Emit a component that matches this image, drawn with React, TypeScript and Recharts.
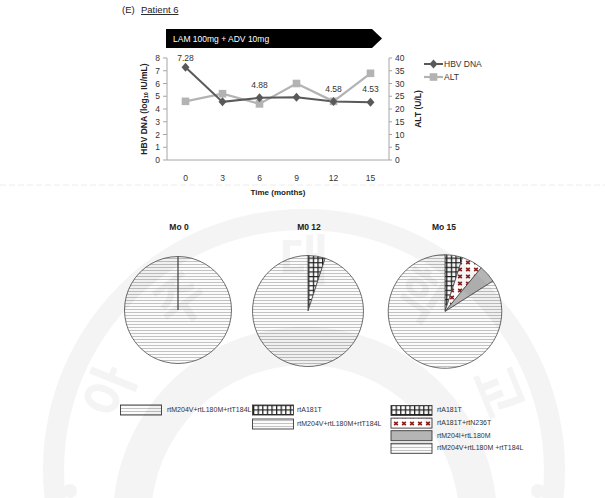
import React from "react";
import { LineChart, Line, XAxis, YAxis, LabelList, PieChart, Pie, Cell } from "recharts";

// follow-up time points and measurements
const months = ["0", "3", "6", "9", "12", "15"];
const hbvDna = [7.28, 4.56, 4.88, 4.93, 4.58, 4.53];
const altLevels = [23, 26, 22, 30, 23, 34];
const labelledPoints = [0, 2, 4, 5];
const dnaTicks = [0, 1, 2, 3, 4, 5, 6, 7, 8];
const altTicks = [0, 5, 10, 15, 20, 25, 30, 35, 40];

// mutant proportions (%) at each time point
const pieTitles = ["Mo 0", "M0 12", "Mo 15"];
const mo0Variants = ["rtM204V+rtL180M+rtT184L"];
const mo0Shares = [100];
const mo12Variants = ["rtA181T", "rtM204V+rtL180M+rtT184L"];
const mo12Shares = [5, 95];
const mo15Variants = ["rtA181T", "rtA181T+rtN236T", "rtM204I+rtL180M", "rtM204V+rtL180M +rtT184L"];
const mo15Shares = [5, 6, 5, 84];

// letters of the background seal
const sealLetters = ["아", "주", "대", "학", "교"];

const FONT = "'Liberation Sans', Arial, sans-serif";
const DNA_COLOR = "#595959";
const ALT_COLOR = "#b3b3b3";

const lineData = months.map((m, i) => ({ month: m, dna: hbvDna[i], alt: altLevels[i] }));
const toSlices = (names: string[], shares: number[]) =>
  names.map((name, i) => ({ name, value: shares[i] }));

const fillFor = (name: string) => {
  if (name === "rtA181T") return "url(#gridFill)";
  if (name.startsWith("rtA181T+")) return "url(#crossFill)";
  if (name.startsWith("rtM204I")) return "#b5b5b5";
  return "url(#stripeFill)";
};

const Diamond = (props: any) => {
  const { cx, cy, index } = props;
  if (cx == null || cy == null) return <g key={`d${index}`} />;
  return (
    <path
      key={`d${index}`}
      d={`M${cx},${cy - 4.5}L${cx + 4},${cy}L${cx},${cy + 4.5}L${cx - 4},${cy}Z`}
      fill={DNA_COLOR}
    />
  );
};

const Square = (props: any) => {
  const { cx, cy, index } = props;
  if (cx == null || cy == null) return <g key={`s${index}`} />;
  return <rect key={`s${index}`} x={cx - 3.8} y={cy - 3.8} width={7.6} height={7.6} fill={ALT_COLOR} />;
};

const renderDnaLabel = (props: any) => {
  const { x, y, value } = props;
  const idx = props.index ?? hbvDna.indexOf(Number(value));
  if (!labelledPoints.includes(idx)) return null;
  return (
    <text x={x} y={Math.max(y - 10, 61)} textAnchor="middle" fontSize={8.5} fill="#333" fontFamily={FONT}>
      {Number(value).toFixed(2)}
    </text>
  );
};

const tickStyle = { fontSize: 8.5, fill: "#333", fontFamily: FONT };

const LegendBox = ({ x, y, fill }: { x: number; y: number; fill: string }) => (
  <rect x={x} y={y} width={41} height={10} fill={fill} stroke="#3a3a3a" strokeWidth={0.9} />
);

const legendText = (x: number, y: number, s: string) => (
  <text x={x} y={y} fontSize={7} fill="#333" fontFamily={FONT} dominantBaseline="middle">
    {s}
  </text>
);

export default function App() {
  const pies = [
    { slices: toSlices(mo0Variants, mo0Shares), cx: 178, cy: 310, r: 53.5 },
    { slices: toSlices(mo12Variants, mo12Shares), cx: 308, cy: 311, r: 55.5 },
    { slices: toSlices(mo15Variants, mo15Shares), cx: 445, cy: 311.5, r: 56.8 },
  ];
  const sealAngles = [-68, -36, 0, 34, 68];

  return (
    <div style={{ position: "absolute", left: 0, top: 0, width: 605, height: 498, background: "#fff", overflow: "hidden" }}>
      <svg width={0} height={0} style={{ position: "absolute" }}>
        <defs>
          <pattern id="stripeFill" width={6} height={3} patternUnits="userSpaceOnUse">
            <rect width={6} height={3} fill="#fbfbfb" />
            <line x1={0} x2={6} y1={0.5} y2={0.5} stroke="#c2c2c2" strokeWidth={1} />
          </pattern>
          <pattern id="gridFill" width={4.6} height={4.6} patternUnits="userSpaceOnUse">
            <rect width={4.6} height={4.6} fill="#fff" />
            <path d="M0,0.6H4.6M0.6,0V4.6" stroke="#1e1e1e" strokeWidth={1.3} />
          </pattern>
          <pattern id="crossFill" width={8} height={7} patternUnits="userSpaceOnUse">
            <rect width={8} height={7} fill="#fff" />
            <path d="M2.2,1.8L5.8,5.2M5.8,1.8L2.2,5.2" stroke="#8e1c1c" strokeWidth={1.6} />
          </pattern>
        </defs>
      </svg>

      <div style={{ position: "absolute", left: 0, top: 0 }}>
        <LineChart width={605} height={210} data={lineData} margin={{ top: 58, right: 176, bottom: 20, left: 107 }}>
          <XAxis
            dataKey="month"
            tickLine={false}
            tickMargin={9}
            height={30}
            padding={{ left: 18.5, right: 18.5 }}
            stroke="#a6a6a6"
            tick={tickStyle}
          />
          <YAxis
            yAxisId="dna"
            orientation="left"
            width={60}
            domain={[0, 8]}
            ticks={dnaTicks}
            interval={0}
            tickSize={4}
            tickMargin={3}
            stroke="#a6a6a6"
            tick={tickStyle}
          />
          <YAxis
            yAxisId="alt"
            orientation="right"
            width={40}
            domain={[0, 40]}
            ticks={altTicks}
            interval={0}
            tickSize={3}
            tickMargin={3}
            stroke="#a6a6a6"
            tick={tickStyle}
          />
          <Line
            yAxisId="alt"
            dataKey="alt"
            stroke={ALT_COLOR}
            strokeWidth={2.2}
            dot={Square}
            activeDot={false}
            isAnimationActive={false}
          />
          <Line
            yAxisId="dna"
            dataKey="dna"
            stroke={DNA_COLOR}
            strokeWidth={2}
            dot={Diamond}
            activeDot={false}
            isAnimationActive={false}
          >
            <LabelList dataKey="dna" content={renderDnaLabel} />
          </Line>
        </LineChart>
      </div>

      <div style={{ position: "absolute", left: 0, top: 0 }}>
        <PieChart width={605} height={498} margin={{ top: 0, right: 0, bottom: 0, left: 0 }}>
          {pies.map((p, k) => (
            <Pie
              key={k}
              data={p.slices}
              dataKey="value"
              nameKey="name"
              cx={p.cx}
              cy={p.cy}
              outerRadius={p.r}
              startAngle={90}
              endAngle={-270}
              stroke="#4a4a4a"
              strokeWidth={0.8}
              isAnimationActive={false}
            >
              {p.slices.map((s, i) => (
                <Cell key={i} fill={fillFor(s.name)} />
              ))}
            </Pie>
          ))}
        </PieChart>
      </div>

      <svg width={605} height={498} style={{ position: "absolute", left: 0, top: 0, pointerEvents: "none" }}>
        {/* panel header */}
        <text x={122} y={13} fontSize={9.5} fill="#222" fontFamily={FONT}>(E)</text>
        <text x={141} y={13} fontSize={9.5} fill="#222" fontFamily={FONT} textDecoration="underline">Patient 6</text>

        {/* treatment banner */}
        <polygon points="166,29 372,29 382,38.5 372,48 166,48" fill="#000" />
        <text x={173} y={41.5} fontSize={8.5} fill="#fff" fontFamily={FONT}>LAM 100mg + ADV 10mg</text>

        {/* axis titles */}
        <text
          transform="translate(145,109) rotate(-90)"
          textAnchor="middle"
          dominantBaseline="middle"
          fontSize={8.5}
          fontWeight="bold"
          fill="#222"
          fontFamily={FONT}
        >
          HBV DNA (log<tspan fontSize={5.5} dy={2}>10</tspan>
          <tspan dy={-2}> IU/mL)</tspan>
        </text>
        <text
          transform="translate(419,109) rotate(-90)"
          textAnchor="middle"
          dominantBaseline="middle"
          fontSize={8.5}
          fontWeight="bold"
          fill="#222"
          fontFamily={FONT}
        >
          ALT (U/L)
        </text>
        <text x={278} y={194.5} textAnchor="middle" fontSize={8} fontWeight="bold" fill="#222" fontFamily={FONT}>
          Time (months)
        </text>

        {/* line legend */}
        <line x1={424} x2={443} y1={64} y2={64} stroke={DNA_COLOR} strokeWidth={2} />
        <path d="M433.5,59.5L437.5,64L433.5,68.5L429.5,64Z" fill={DNA_COLOR} />
        <text x={444} y={67} fontSize={8.5} fill="#333" fontFamily={FONT}>HBV DNA</text>
        <line x1={424} x2={443} y1={77} y2={77} stroke={ALT_COLOR} strokeWidth={2.2} />
        <rect x={429.7} y={73.2} width={7.6} height={7.6} fill={ALT_COLOR} />
        <text x={444} y={80} fontSize={8.5} fill="#333" fontFamily={FONT}>ALT</text>

        {/* faint separator */}
        <line x1={0} x2={605} y1={185} y2={185} stroke="#ececec" strokeWidth={1} strokeDasharray="6 3" />

        {/* pie titles */}
        {pieTitles.map((t, i) => (
          <text
            key={t}
            x={[179, 309, 444][i]}
            y={230}
            textAnchor="middle"
            fontSize={8.5}
            fontWeight="bold"
            fill="#222"
            fontFamily={FONT}
          >
            {t}
          </text>
        ))}

        {/* pie legends */}
        <LegendBox x={120.5} y={405} fill={fillFor(mo0Variants[0])} />
        {legendText(167, 410.5, mo0Variants[0])}

        {mo12Variants.map((v, i) => (
          <g key={v}>
            <LegendBox x={252.5} y={405 + i * 14} fill={fillFor(v)} />
            {legendText(297, 410.5 + i * 14, v)}
          </g>
        ))}

        {mo15Variants.map((v, i) => (
          <g key={v}>
            <LegendBox x={391} y={405.5 + i * 12.6} fill={fillFor(v)} />
            {legendText(437, 410.5 + i * 12.6, v)}
          </g>
        ))}

        {/* seal in the background */}
        <g opacity={0.04} fill="#000">
          <path
            fillRule="evenodd"
            d="M43,470a261,261 0 1,0 522,0a261,261 0 1,0 -522,0ZM64,470a240,240 0 1,0 480,0a240,240 0 1,0 -480,0Z"
          />
          <path
            fillRule="evenodd"
            d="M113,519a192,192 0 1,0 384,0a192,192 0 1,0 -384,0ZM151,519a154,154 0 1,0 308,0a154,154 0 1,0 -308,0Z"
          />
          <circle cx={70} cy={491} r={7} />
          <circle cx={538} cy={491} r={7} />
          {sealLetters.map((ch, i) => (
            <text
              key={ch}
              transform={`rotate(${sealAngles[i]},304,470) translate(304,${470 - 205})`}
              textAnchor="middle"
              dominantBaseline="middle"
              fontSize={54}
              fontWeight="bold"
              fontFamily="'Noto Sans CJK KR', sans-serif"
            >
              {ch}
            </text>
          ))}
        </g>
      </svg>
    </div>
  );
}
